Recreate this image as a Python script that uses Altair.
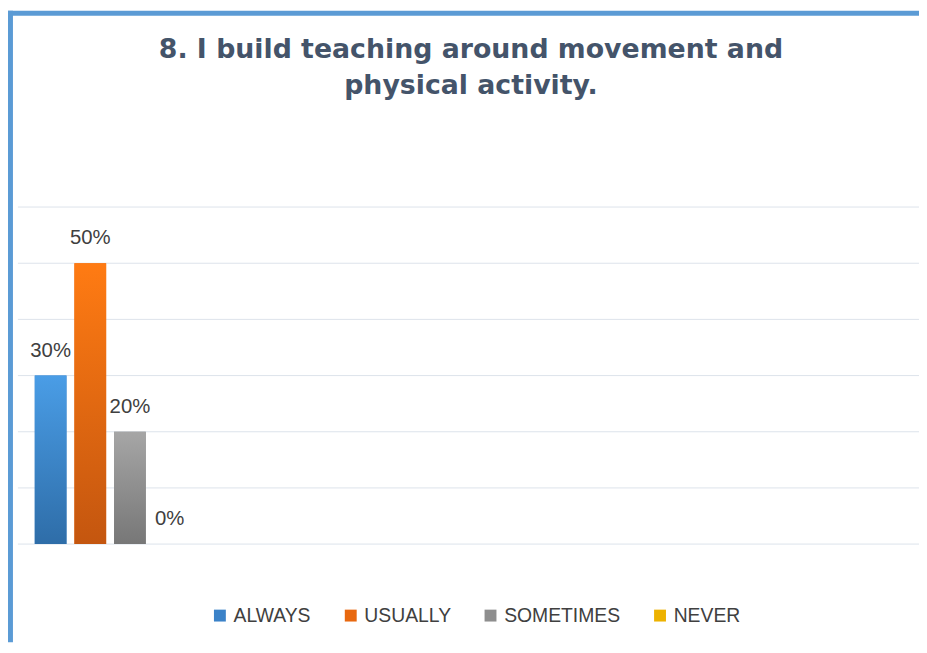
import altair as alt
import pandas as pd

categories = ["ALWAYS", "USUALLY", "SOMETIMES", "NEVER"]
values = [0.30, 0.50, 0.20, 0.00]
labels = ["30%", "50%", "20%", "0%"]
mid_colors = ["#3B82C8", "#E8680F", "#8E8E8E", "#EDB200"]
top_colors = ["#4A9DE6", "#FF7B13", "#A6A6A6", "#FFC000"]
bottom_colors = ["#2E6DA8", "#C4560F", "#777777", "#C89A00"]
grid_values = [0.0, 0.1, 0.2, 0.3, 0.4, 0.5, 0.6]
title_lines = ["8. I build teaching around movement and", "physical activity."]

df = pd.DataFrame({"series": categories, "value": values, "label": labels})
grid_df = pd.DataFrame({"g": grid_values})
one = pd.DataFrame({"k": [0]})

W = 909

x_enc = alt.X("series:N", sort=categories,
              scale=alt.Scale(range=[17, 169], paddingInner=0.2, paddingOuter=0),
              axis=None)
y_enc = alt.Y("value:Q", scale=alt.Scale(domain=[0, 0.6]), axis=None)

grid = alt.Chart(grid_df).mark_rule(color="#DDE3EB", strokeWidth=1).encode(
    y=alt.Y("g:Q", scale=alt.Scale(domain=[0, 0.6]), axis=None),
    x=alt.value(0), x2=alt.value(W))

base = alt.Chart(df).mark_bar().encode(
    x=x_enc,
    y=y_enc,
    color=alt.Color("series:N", sort=categories,
                    scale=alt.Scale(domain=categories, range=mid_colors),
                    legend=alt.Legend(orient="none", legendX=194, legendY=402,
                                      direction="horizontal", title=None,
                                      symbolType="square", symbolSize=144,
                                      symbolStrokeWidth=0,
                                      labelFont="Liberation Sans", labelFontSize=19.5,
                                      labelColor="#404040", columnPadding=30,
                                      labelOffset=4)),
)

layers = [grid, base]
for cat, tc, bc in zip(categories, top_colors, bottom_colors):
    grad = alt.Gradient(gradient="linear",
                        stops=[alt.GradientStop(color=tc, offset=0),
                               alt.GradientStop(color=bc, offset=1)],
                        x1=0, x2=0, y1=0, y2=1)
    layers.append(
        alt.Chart(df).transform_filter(alt.datum.series == cat)
        .mark_bar(color=grad).encode(x=x_enc, y=y_enc)
    )

text = alt.Chart(df).mark_text(dy=-19, baseline="alphabetic", align="center",
                               font="Liberation Sans", fontSize=20.5,
                               color="#404040").encode(
    x=x_enc, y=y_enc, text="label:N")

title = alt.Chart(one).mark_text(font="DejaVu Sans", fontWeight="bold", fontSize=27,
                                 color="#44546A", lineHeight=36, align="center",
                                 baseline="alphabetic").encode(
    x=alt.value(457), y=alt.value(-150), text=alt.value(title_lines))

left_border = alt.Chart(one).mark_rule(color="#5B9BD5", strokeWidth=5).encode(
    x=alt.value(-7.5), y=alt.value(-198), y2=alt.value(439))
top_border = alt.Chart(one).mark_rule(color="#5B9BD5", strokeWidth=5).encode(
    x=alt.value(-10), x2=alt.value(W), y=alt.value(-195.5))

chart = alt.layer(*layers, text, title, left_border, top_border).properties(
    width=W, height=340,
    padding={"left": 10, "top": 198, "right": 0, "bottom": 99},
    autosize=alt.AutoSizeParams(type="none"),
).configure_view(stroke=None)

chart.save("out.html", embed_options={"renderer": "svg", "actions": False})
